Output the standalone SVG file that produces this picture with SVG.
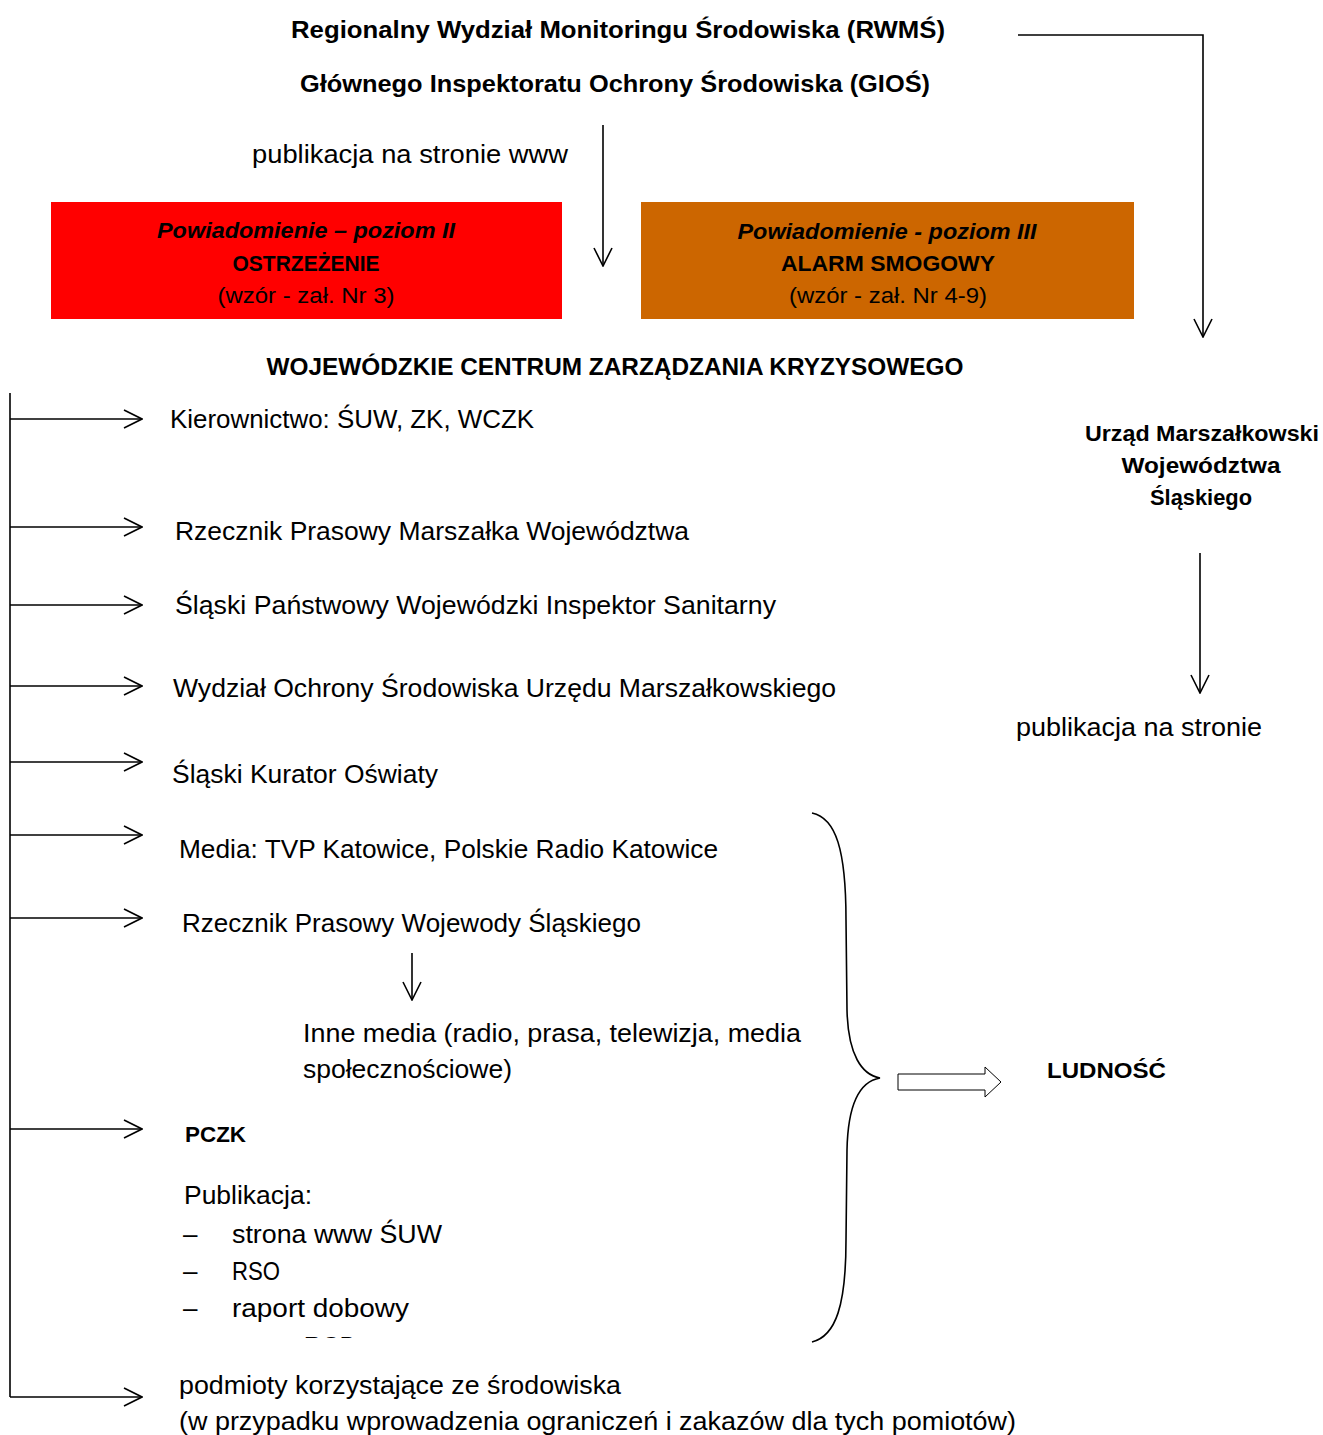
<svg xmlns="http://www.w3.org/2000/svg" width="1323" height="1435" viewBox="0 0 1323 1435">
<style>
text{font-family:"Liberation Sans",Arial,sans-serif;fill:#000}
.r{font-size:26px}
.b{font-size:24px;font-weight:bold}
.bx{font-size:22px}
.bxb{font-size:22px;font-weight:bold}
.bxi{font-size:22px;font-weight:bold;font-style:italic}
.c{text-anchor:middle}
.ln{stroke:#000;stroke-width:1.6;fill:none}
</style>
<defs>
<marker id="ah" viewBox="0 0 20 20" refX="19" refY="10" markerWidth="20" markerHeight="20" markerUnits="userSpaceOnUse" orient="auto">
<path d="M1,1 L19,10 L1,19" fill="none" stroke="#000" stroke-width="1.6"/>
</marker>
<clipPath id="cut"><rect x="0" y="0" width="1323" height="1338"/></clipPath>
</defs>
<rect width="1323" height="1435" fill="#fff"/>

<g id="connectors">
<path class="ln" d="M1018,35 H1203 V337" marker-end="url(#ah)"/>
<path class="ln" d="M603,125 V266" marker-end="url(#ah)"/>
<path class="ln" d="M1200,553 V693" marker-end="url(#ah)"/>
<path class="ln" d="M412,953 V1000" marker-end="url(#ah)"/>
<path class="ln" d="M10,393 V1397"/>
<path class="ln" d="M10,419 H142" marker-end="url(#ah)"/>
<path class="ln" d="M10,527 H142" marker-end="url(#ah)"/>
<path class="ln" d="M10,605 H142" marker-end="url(#ah)"/>
<path class="ln" d="M10,686 H142" marker-end="url(#ah)"/>
<path class="ln" d="M10,762 H142" marker-end="url(#ah)"/>
<path class="ln" d="M10,835 H142" marker-end="url(#ah)"/>
<path class="ln" d="M10,918 H142" marker-end="url(#ah)"/>
<path class="ln" d="M10,1129 H142" marker-end="url(#ah)"/>
<path class="ln" d="M10,1397 H142" marker-end="url(#ah)"/>
<path class="ln" d="M812,813 C836,818 846,850 846,920 L847,1010 C848,1055 862,1075 880,1078 C862,1081 848,1100 847,1150 L846,1240 C846,1305 836,1336 812,1342"/>
<polygon points="898,1074 985,1074 985,1067 1001,1082 985,1097 985,1090 898,1090" fill="#fff" stroke="#000" stroke-width="1"/>
</g>

<g id="rwms">
<text class="b c" x="618" y="38" textLength="654" lengthAdjust="spacingAndGlyphs">Regionalny Wydział Monitoringu Środowiska (RWMŚ)</text>
<text class="b c" x="615" y="92" textLength="630" lengthAdjust="spacingAndGlyphs">Głównego Inspektoratu Ochrony Środowiska (GIOŚ)</text>
</g>
<g id="pub-www">
<text class="r" x="252" y="163" textLength="316" lengthAdjust="spacingAndGlyphs">publikacja na stronie www</text>
</g>

<g id="poziom2">
<rect x="51" y="202" width="511" height="117" fill="#FF0000"/>
<text class="bxi c" x="306" y="238" textLength="298" lengthAdjust="spacingAndGlyphs">Powiadomienie – poziom II</text>
<text class="bxb c" x="306" y="271" textLength="147" lengthAdjust="spacingAndGlyphs">OSTRZEŻENIE</text>
<text class="bx c" x="306" y="303" textLength="177" lengthAdjust="spacingAndGlyphs">(wzór - zał. Nr 3)</text>
</g>

<g id="poziom3">
<rect x="641" y="202" width="493" height="117" fill="#CC6600"/>
<text class="bxi c" x="887" y="239" textLength="299" lengthAdjust="spacingAndGlyphs">Powiadomienie - poziom III</text>
<text class="bxb c" x="888" y="271" textLength="214" lengthAdjust="spacingAndGlyphs">ALARM SMOGOWY</text>
<text class="bx c" x="888" y="303" textLength="198" lengthAdjust="spacingAndGlyphs">(wzór - zał. Nr 4-9)</text>
</g>

<g id="wczk">
<text class="b c" x="615" y="375" textLength="697" lengthAdjust="spacingAndGlyphs">WOJEWÓDZKIE CENTRUM ZARZĄDZANIA KRYZYSOWEGO</text>
</g>

<g id="urzad">
<text class="bxb c" x="1202" y="441" textLength="234" lengthAdjust="spacingAndGlyphs">Urząd Marszałkowski</text>
<text class="bxb c" x="1201" y="473" textLength="159" lengthAdjust="spacingAndGlyphs">Województwa</text>
<text class="bxb c" x="1201" y="505" textLength="102" lengthAdjust="spacingAndGlyphs">Śląskiego</text>
</g>
<g id="pub-strona">
<text class="r" x="1016" y="736" textLength="246" lengthAdjust="spacingAndGlyphs">publikacja na stronie</text>
</g>

<g id="kierownictwo"><text class="r" x="170" y="428" textLength="364" lengthAdjust="spacingAndGlyphs">Kierownictwo: ŚUW, ZK, WCZK</text></g>
<g id="rzecznik-marszalka"><text class="r" x="175" y="540" textLength="514" lengthAdjust="spacingAndGlyphs">Rzecznik Prasowy Marszałka Województwa</text></g>
<g id="sanepid"><text class="r" x="175" y="614" textLength="601" lengthAdjust="spacingAndGlyphs">Śląski Państwowy Wojewódzki Inspektor Sanitarny</text></g>
<g id="wos"><text class="r" x="173" y="697" textLength="663" lengthAdjust="spacingAndGlyphs">Wydział Ochrony Środowiska Urzędu Marszałkowskiego</text></g>
<g id="kurator"><text class="r" x="172" y="783" textLength="266" lengthAdjust="spacingAndGlyphs">Śląski Kurator Oświaty</text></g>
<g id="media"><text class="r" x="179" y="858" textLength="539" lengthAdjust="spacingAndGlyphs">Media: TVP Katowice, Polskie Radio Katowice</text></g>
<g id="rzecznik-wojewody"><text class="r" x="182" y="932" textLength="459" lengthAdjust="spacingAndGlyphs">Rzecznik Prasowy Wojewody Śląskiego</text></g>
<g id="inne-media">
<text class="r" x="303" y="1042" textLength="498" lengthAdjust="spacingAndGlyphs">Inne media (radio, prasa, telewizja, media</text>
<text class="r" x="303" y="1078" textLength="209" lengthAdjust="spacingAndGlyphs">społecznościowe)</text>
</g>
<g id="pczk">
<text class="bxb" x="185" y="1142" textLength="61" lengthAdjust="spacingAndGlyphs">PCZK</text>
<text class="r" x="184" y="1204" textLength="128" lengthAdjust="spacingAndGlyphs">Publikacja:</text>
<text class="r" x="183" y="1243">–</text>
<text class="r" x="232" y="1243" textLength="210" lengthAdjust="spacingAndGlyphs">strona www ŚUW</text>
<text class="r" x="183" y="1280">–</text>
<text class="r" x="232" y="1280" textLength="48" lengthAdjust="spacingAndGlyphs">RSO</text>
<text class="r" x="183" y="1317">–</text>
<text class="r" x="232" y="1317" textLength="177" lengthAdjust="spacingAndGlyphs">raport dobowy</text>
<g clip-path="url(#cut)">
<text class="r" x="183" y="1355">–</text>
<text class="r" x="232" y="1355" textLength="124" lengthAdjust="spacingAndGlyphs">raport RCB</text>
</g>
</g>
<g id="podmioty">
<text class="r" x="179" y="1394" textLength="442" lengthAdjust="spacingAndGlyphs">podmioty korzystające ze środowiska</text>
<text class="r" x="179" y="1430" textLength="837" lengthAdjust="spacingAndGlyphs">(w przypadku wprowadzenia ograniczeń i zakazów dla tych pomiotów)</text>
</g>
<g id="ludnosc">
<text class="bxb" x="1047" y="1078" textLength="119" lengthAdjust="spacingAndGlyphs">LUDNOŚĆ</text>
</g>
</svg>
